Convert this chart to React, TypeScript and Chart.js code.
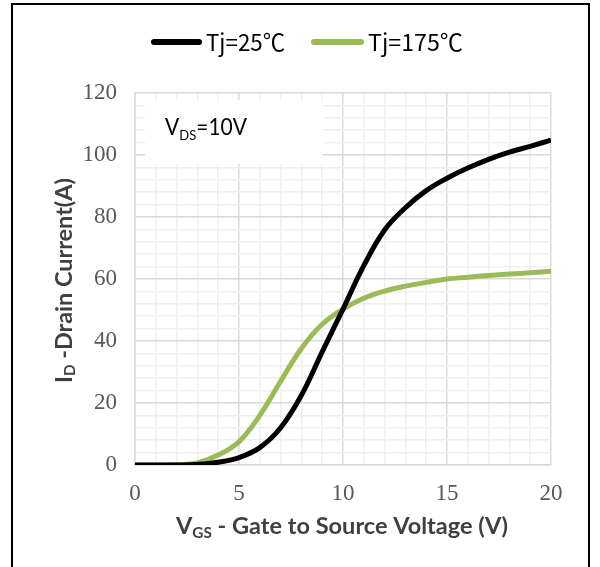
import React, { useEffect, useRef } from "react";
import { Chart, registerables } from "chart.js";

Chart.register(...registerables);

// ---- data ----
const vgs = [0, 1, 2, 3, 4, 5, 6, 7, 8, 9, 10, 11, 12, 13, 14, 15, 16, 17, 18, 19, 20];
const id25 = [0, 0, 0, 0.2, 0.9, 2.4, 5.6, 12, 22.5, 36.5, 50.3, 64.3, 75.8, 83, 88.5, 92.5, 95.8, 98.6, 100.9, 102.8, 104.8];
const id175 = [0, 0, 0.1, 0.7, 3.2, 7.5, 16, 27, 37.6, 45.4, 50.3, 53.8, 56.1, 57.7, 58.9, 60, 60.6, 61.1, 61.6, 62, 62.5];
const seriesNames = ["Tj=25℃", "Tj=175℃"];
const seriesColors = ["#000000", "#9bbb59"];
const xTicks = [0, 5, 10, 15, 20];
const yTicks = [0, 20, 40, 60, 80, 100, 120];

type Seg = { t: string; s: number; dy: number };

function setFont(ctx: CanvasRenderingContext2D, size: number, family: string, weight: string) {
  ctx.font = `${weight} ${size}px ${family}`;
}

function drawRich(
  ctx: CanvasRenderingContext2D,
  segs: Seg[],
  x: number,
  y: number,
  size: number,
  target: number,
  family: string,
  weight: string,
  color: string
) {
  let w = 0;
  for (const sg of segs) {
    setFont(ctx, size * sg.s, family, weight);
    w += ctx.measureText(sg.t).width;
  }
  const sx = target / w;
  ctx.save();
  ctx.translate(x, y);
  ctx.scale(sx, 1);
  ctx.fillStyle = color;
  ctx.textBaseline = "alphabetic";
  ctx.textAlign = "left";
  let cx = 0;
  for (const sg of segs) {
    setFont(ctx, size * sg.s, family, weight);
    ctx.fillText(sg.t, cx, sg.dy);
    cx += ctx.measureText(sg.t).width;
  }
  ctx.restore();
}

const decor = {
  id: "decor",
  beforeDraw(chart: any) {
    const ctx = chart.ctx as CanvasRenderingContext2D;
    ctx.save();
    ctx.fillStyle = "#ffffff";
    ctx.fillRect(0, 0, chart.width, chart.height);
    ctx.restore();
  },
  beforeDatasetsDraw(chart: any) {
    const ctx = chart.ctx as CanvasRenderingContext2D;
    ctx.save();
    ctx.fillStyle = "#ffffff";
    ctx.fillRect(145, 100, 178, 64);
    drawRich(
      ctx,
      [
        { t: "V", s: 1, dy: 0 },
        { t: "DS", s: 0.62, dy: 5 },
        { t: "=10V", s: 1, dy: 0 },
      ],
      165,
      135,
      23,
      82,
      "Lato, 'Open Sans', sans-serif",
      "normal",
      "#000000"
    );
    ctx.restore();
  },
  afterDraw(chart: any) {
    const ctx = chart.ctx as CanvasRenderingContext2D;
    ctx.save();
    // frame
    ctx.strokeStyle = "#000000";
    ctx.lineWidth = 2;
    ctx.strokeRect(12, 4, 577, 600);

    // legend
    const legendFamily = "'Noto Sans CJK SC', 'Noto Sans', sans-serif";
    const lx = [151, 311];
    const lw = [51, 53];
    const tx = [206, 368];
    const tw = [79, 95];
    ctx.lineCap = "round";
    for (let i = 0; i < seriesNames.length; i++) {
      ctx.strokeStyle = seriesColors[i];
      ctx.lineWidth = 6;
      ctx.beginPath();
      ctx.moveTo(lx[i] + 3, 42);
      ctx.lineTo(lx[i] + lw[i] - 3, 42);
      ctx.stroke();
      drawRich(ctx, [{ t: seriesNames[i], s: 1, dy: 0 }], tx[i], 50.5, 23.5, tw[i], legendFamily, "normal", "#000000");
    }

    // axis titles
    const titleFamily = "Lato, 'Open Sans', sans-serif";
    drawRich(
      ctx,
      [
        { t: "V", s: 1, dy: 0 },
        { t: "GS", s: 0.65, dy: 4 },
        { t: " - Gate to Source Voltage (V)", s: 1, dy: 0 },
      ],
      176,
      534,
      23,
      332,
      titleFamily,
      "bold",
      "#404040"
    );
    ctx.translate(72, 383);
    ctx.rotate(-Math.PI / 2);
    drawRich(
      ctx,
      [
        { t: "I", s: 1, dy: 0 },
        { t: "D", s: 0.65, dy: 3 },
        { t: " -Drain Current(A)", s: 1, dy: 0 },
      ],
      0,
      0,
      23,
      205,
      titleFamily,
      "bold",
      "#404040"
    );
    ctx.restore();
  },
};

export default function App() {
  const ref = useRef<HTMLCanvasElement | null>(null);

  useEffect(() => {
    if (!ref.current) return;
    const gridColor = (v: number, majors: number[]) => (majors.includes(v) ? "#d9d9d9" : "#efefef");
    const chart = new Chart(ref.current, {
      type: "line",
      data: {
        datasets: [
          {
            label: seriesNames[0],
            data: vgs.map((x, i) => ({ x, y: id25[i] })),
            borderColor: seriesColors[0],
            borderWidth: 5,
            pointRadius: 0,
            tension: 0.4,
            fill: false,
          },
          {
            label: seriesNames[1],
            data: vgs.map((x, i) => ({ x, y: id175[i] })),
            borderColor: seriesColors[1],
            borderWidth: 5,
            pointRadius: 0,
            tension: 0.4,
            fill: false,
          },
        ],
      },
      options: {
        animation: false,
        responsive: false,
        devicePixelRatio: 1,
        layout: { padding: { top: 93, right: 49, left: 0, bottom: 0 } },
        plugins: { legend: { display: false }, tooltip: { enabled: false } },
        scales: {
          x: {
            type: "linear",
            min: 0,
            max: 20,
            afterFit: (s: any) => {
              s.height = 102;
            },
            ticks: {
              stepSize: 1,
              autoSkip: false,
              maxRotation: 0,
              padding: 15,
              color: "#595959",
              font: { family: "'Liberation Serif', serif", size: 23 },
              callback: (v: any) => (xTicks.includes(Number(v)) ? String(v) : ""),
            },
            grid: {
              drawTicks: false,
              lineWidth: 1.5,
              color: (c: any) => gridColor(c.tick ? c.tick.value : -1, xTicks),
            },
            border: { color: "#d9d9d9", width: 1.5 },
          },
          y: {
            type: "linear",
            min: 0,
            max: 120,
            afterFit: (s: any) => {
              s.width = 135;
            },
            ticks: {
              stepSize: 4,
              autoSkip: false,
              padding: 18,
              color: "#595959",
              font: { family: "'Liberation Serif', serif", size: 23 },
              callback: (v: any) => (yTicks.includes(Number(v)) ? String(v) : ""),
            },
            grid: {
              drawTicks: false,
              lineWidth: 1.5,
              color: (c: any) => gridColor(c.tick ? c.tick.value : -1, yTicks),
            },
            border: { color: "#d9d9d9", width: 1.5 },
          },
        },
      },
      plugins: [decor],
    } as any);
    return () => chart.destroy();
  }, []);

  return (
    <div style={{ position: "absolute", left: 0, top: 0, width: 600, height: 567 }}>
      <canvas ref={ref} width={600} height={567} style={{ width: 600, height: 567, display: "block" }} />
    </div>
  );
}
